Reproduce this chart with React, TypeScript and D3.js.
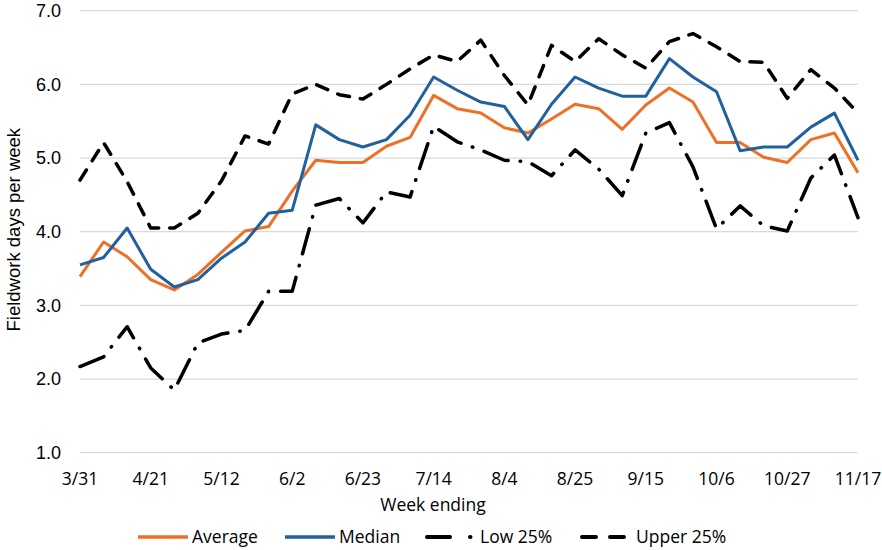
import React, { useEffect, useRef } from 'react';
import * as d3 from 'd3';

const weeks = ['3/31', '4/7', '4/14', '4/21', '4/28', '5/5', '5/12', '5/19', '5/26', '6/2', '6/9', '6/16',
  '6/23', '6/30', '7/7', '7/14', '7/21', '7/28', '8/4', '8/11', '8/18', '8/25', '9/1', '9/8', '9/15',
  '9/22', '9/29', '10/6', '10/13', '10/20', '10/27', '11/3', '11/10', '11/17'];

const average = [3.39, 3.86, 3.66, 3.35, 3.21, 3.42, 3.72, 4.01, 4.07, 4.55, 4.97, 4.94, 4.94, 5.16, 5.28, 5.85, 5.67,
  5.61, 5.41, 5.34, 5.53, 5.73, 5.67, 5.39, 5.72, 5.95, 5.76, 5.21, 5.21, 5.01, 4.94, 5.25, 5.34, 4.80];
const median = [3.55, 3.65, 4.05, 3.49, 3.25, 3.35, 3.64, 3.86, 4.25, 4.29, 5.45, 5.25, 5.15, 5.25, 5.58, 6.10, 5.92,
  5.76, 5.70, 5.25, 5.73, 6.10, 5.95, 5.84, 5.84, 6.35, 6.10, 5.90, 5.10, 5.15, 5.15, 5.42, 5.61, 4.97];
const low25 = [2.17, 2.30, 2.71, 2.15, 1.85, 2.49, 2.61, 2.66, 3.19, 3.19, 4.36, 4.45, 4.12, 4.54, 4.47, 5.43, 5.22,
  5.11, 4.97, 4.95, 4.76, 5.11, 4.85, 4.49, 5.34, 5.48, 4.88, 4.04, 4.35, 4.08, 4.01, 4.73, 5.04, 4.19];
const upper25 = [4.70, 5.21, 4.68, 4.05, 4.05, 4.25, 4.69, 5.30, 5.19, 5.87, 6.00, 5.86, 5.80, 6.00, 6.21, 6.40, 6.31,
  6.60, 6.12, 5.72, 6.53, 6.31, 6.62, 6.40, 6.22, 6.58, 6.69, 6.51, 6.31, 6.30, 5.81, 6.20, 5.95, 5.61];

const yTicks = [1, 2, 3, 4, 5, 6, 7];
const xTickLabels = weeks.filter((_, i) => i % 3 === 0);

const seriesNames = ['Average', 'Median', 'Low 25%', 'Upper 25%'];

export default function App() {
  const svgRef = useRef<SVGSVGElement | null>(null);

  useEffect(() => {
    if (!svgRef.current) return;
    const svg = d3.select(svgRef.current);
    svg.selectAll('*').remove();

    const width = 882;
    const height = 550;
    const margin = { top: 10.7, right: 24, bottom: 97.3, left: 80 };

    const x = d3.scalePoint<string>()
      .domain(weeks)
      .range([margin.left, width - margin.right]);
    const y = d3.scaleLinear()
      .domain([1, 7])
      .range([height - margin.bottom, margin.top]);

    const tickFont = '"Liberation Sans", Arial, sans-serif';
    const catFont = '"Open Sans", "Noto Sans", sans-serif';

    // gridlines
    svg.append('g')
      .selectAll('line')
      .data(yTicks)
      .enter()
      .append('line')
      .attr('x1', margin.left)
      .attr('x2', width - margin.right)
      .attr('y1', d => y(d))
      .attr('y2', d => y(d))
      .attr('stroke', '#d9d9d9')
      .attr('stroke-width', 1.2);

    // y tick labels
    svg.append('g')
      .selectAll('text')
      .data(yTicks)
      .enter()
      .append('text')
      .attr('x', 61)
      .attr('y', d => y(d))
      .attr('dy', '0.35em')
      .attr('text-anchor', 'end')
      .attr('font-family', tickFont)
      .attr('font-size', 18)
      .attr('fill', '#000')
      .text(d => d.toFixed(1));

    // y title
    svg.append('text')
      .attr('transform', `translate(14,${(y(1) + y(7)) / 2 - 2}) rotate(-90)`)
      .attr('text-anchor', 'middle')
      .attr('dy', '0.35em')
      .attr('font-family', tickFont)
      .attr('font-size', 18.5)
      .attr('fill', '#000')
      .text('Fieldwork days per week');

    // x tick labels
    svg.append('g')
      .selectAll('text')
      .data(xTickLabels)
      .enter()
      .append('text')
      .attr('x', d => x(d) as number)
      .attr('y', 485)
      .attr('text-anchor', 'middle')
      .attr('font-family', catFont)
      .attr('font-size', 17.5)
      .attr('fill', '#000')
      .text(d => d);

    // x title
    svg.append('text')
      .attr('x', 433)
      .attr('y', 511)
      .attr('text-anchor', 'middle')
      .attr('font-family', catFont)
      .attr('font-size', 17.5)
      .attr('fill', '#000')
      .text('Week ending');

    const styles = [
      { color: '#ED7026', width: 3, dash: null, cap: 'butt' },
      { color: '#21609F', width: 3, dash: null, cap: 'butt' },
      { color: '#000000', width: 3.5, dash: '26 12 0.5 12', cap: 'round' },
      { color: '#000000', width: 3.5, dash: '12 11', cap: 'round' },
    ];
    const values = [average, median, low25, upper25];

    const line = d3.line<number>()
      .x((_, i) => x(weeks[i]) as number)
      .y(d => y(d));

    // draw upper/low first so coloured lines sit above
    [3, 2, 0, 1].forEach(k => {
      const s = styles[k];
      const p = svg.append('path')
        .datum(values[k])
        .attr('fill', 'none')
        .attr('stroke', s.color)
        .attr('stroke-width', s.width)
        .attr('stroke-linejoin', 'round')
        .attr('stroke-linecap', s.cap)
        .attr('d', line);
      if (s.dash) p.attr('stroke-dasharray', s.dash);
    });

    // legend
    const legendY = 537;
    const legendX = [138, 285, 427, 582];
    const legendDash = [null, null, '23 20 0.5 10', '14 14'];
    const lg = svg.append('g');
    seriesNames.forEach((name, k) => {
      const s = styles[k];
      const l = lg.append('line')
        .attr('x1', legendX[k])
        .attr('x2', legendX[k] + 50)
        .attr('y1', legendY)
        .attr('y2', legendY)
        .attr('stroke', s.color)
        .attr('stroke-width', s.width + 0.5)
        .attr('stroke-linecap', k >= 2 ? 'round' : 'butt');
      if (legendDash[k]) l.attr('stroke-dasharray', legendDash[k] as string);
      lg.append('text')
        .attr('x', legendX[k] + (k === 2 ? 53 : 54))
        .attr('y', 543)
        .attr('font-family', catFont)
        .attr('font-size', 17.5)
        .attr('fill', '#000')
        .text(name);
    });
  }, []);

  return (
    <svg
      ref={svgRef}
      width={882}
      height={550}
      style={{ position: 'absolute', left: 0, top: 0, background: '#fff' }}
    />
  );
}
